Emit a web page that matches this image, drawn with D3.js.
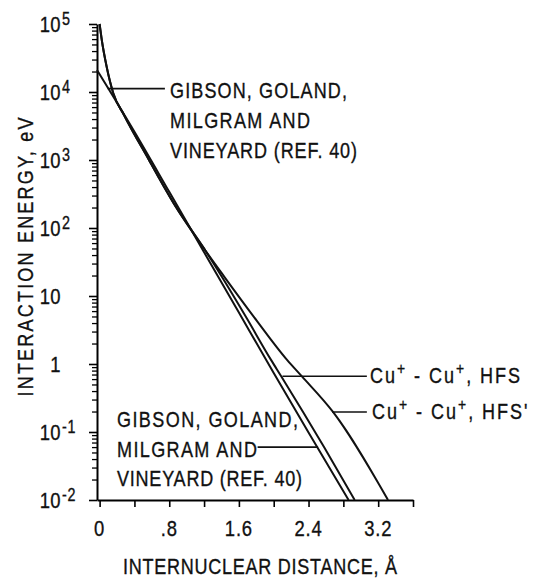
<!DOCTYPE html>
<html>
<head>
<meta charset="utf-8">
<script src="https://cdn.jsdelivr.net/npm/d3@7"></script>
<style>
  body { margin: 0; background: #fff; }
  text { font-family: 'Liberation Sans', Arial, sans-serif; fill: #111; stroke: #111; stroke-width: 0.35px; }
</style>
</head>
<body>
<div id="chart"></div>
<script>
// distance (Angstrom) and energy (eV)
const gibsonR = [-0.03, 0.4, 0.8, 1.2, 1.6, 2.0, 2.4, 2.86];
const gibsonE = [21000, 2600, 340, 44, 5.7, 0.74, 0.098, 0.01];

const hfsR = [0.0, 0.025, 0.081, 0.157, 0.28, 0.567, 0.866, 1.211, 1.406, 1.682, 1.969, 2.084, 2.578, 2.93];
const hfsE = [100000, 58200, 23500, 9570, 4600, 1000, 215, 47.5, 19, 4.9, 1.15, 0.667, 0.06, 0.01];

const hfsPrimeR = [0.0, 0.025, 0.081, 0.157, 0.28, 0.567, 0.866, 1.211, 1.435, 1.774, 2.153, 2.319, 2.681, 3.313];
const hfsPrimeE = [100000, 58200, 23500, 9570, 4600, 1000, 215, 47.5, 19, 4.9, 1.15, 0.667, 0.197, 0.01];

const xTicks = [0, 0.4, 0.8, 1.2, 1.6, 2.0, 2.4, 2.8, 3.2, 3.6];
const xTickLabels = ["0", "", ".8", "", "1.6", "", "2.4", "", "3.2", ""];
const yDecades = [0.01, 0.1, 1, 10, 100, 1000, 10000, 100000];
const yTickBase = ["10", "10", "1", "10", "10", "10", "10", "10"];
const yTickExp = ["-2", "-1", "", "", "2", "3", "4", "5"];

const gibsonLines = ["GIBSON, GOLAND,", "MILGRAM AND", "VINEYARD (REF. 40)"];

const NARROW = 0.82;

const svg = d3.select("#chart")
  .append("svg")
  .attr("width", 533)
  .attr("height", 579);

const x = d3.scaleLinear().domain([-0.03, 3.6]).range([97, 413]);
const y = d3.scaleLog().domain([0.01, 100000]).range([500, 24]);

// condensed text: glyphs squeezed horizontally like the original typeface
function narrowText(x0, y0, str, size, opts = {}) {
  const g = svg.append("g")
    .attr("transform", `translate(${x0},${y0})${opts.rotate ? "rotate(-90)" : ""}scale(${NARROW},1)`);
  const t = g.append("text")
    .attr("text-anchor", opts.anchor || "start")
    .style("font-size", size + "px")
    .style("letter-spacing", (opts.spacing || 0) + "px")
    .text(str);
  if (opts.width) t.attr("textLength", opts.width / NARROW).attr("lengthAdjust", "spacing");
  return t;
}

// minor log ticks
const minor = y.ticks().filter(d => !yDecades.some(v => Math.abs(v - d) / v < 1e-6));
svg.append("g")
  .attr("transform", "translate(97,0)")
  .call(d3.axisLeft(y).tickValues(minor).tickSize(5).tickSizeOuter(0).tickFormat(""))
  .call(g => g.select(".domain").remove())
  .selectAll("line").attr("stroke-width", 1.3);

svg.append("g")
  .attr("transform", "translate(97,0)")
  .call(d3.axisLeft(y).tickValues(yDecades).tickSize(8).tickSizeOuter(0).tickFormat(""))
  .call(g => g.select(".domain").attr("stroke-width", 2))
  .selectAll("line").attr("stroke-width", 1.6);

svg.append("g")
  .attr("transform", "translate(0,500)")
  .call(d3.axisBottom(x).tickValues(xTicks).tickSize(7).tickSizeOuter(0).tickFormat(""))
  .call(g => g.select(".domain").attr("stroke-width", 2))
  .selectAll("line").attr("stroke-width", 1.6);

// y tick labels
yDecades.forEach((d, i) => {
  narrowText(61, y(d) + 8, yTickBase[i], 22.5, { anchor: "end", spacing: 0.5 });
  if (yTickExp[i]) narrowText(62, y(d) + 1, yTickExp[i], 17.5, { spacing: 1 });
});

// x tick labels
xTicks.forEach((d, i) => {
  if (xTickLabels[i]) narrowText(x(d), 536, xTickLabels[i], 22.5, { anchor: "middle", spacing: 1 });
});

// axis titles
narrowText(123, 574, "INTERNUCLEAR DISTANCE, Å", 22, { width: 274 });
narrowText(33, 257, "INTERACTION ENERGY, eV", 22, { anchor: "middle", rotate: true, width: 279 });

// curves
const line = d3.line()
  .x(d => x(d[0]))
  .y(d => y(d[1]))
  .curve(d3.curveMonotoneX);

[[gibsonR, gibsonE], [hfsR, hfsE], [hfsPrimeR, hfsPrimeE]].forEach(([rs, es]) => {
  svg.append("path")
    .datum(rs.map((r, i) => [r, es[i]]))
    .attr("fill", "none")
    .attr("stroke", "#111")
    .attr("stroke-width", 2)
    .attr("d", line);
});

// leader lines [r0, r1, E]
const leaders = [[0.093, 0.75, 11200], [1.815, 2.51, 0.06], [2.1, 3.07, 0.66], [2.67, 3.07, 0.197]];
leaders.forEach(l => {
  svg.append("line")
    .attr("x1", x(l[0])).attr("x2", x(l[1]))
    .attr("y1", y(l[2])).attr("y2", y(l[2]))
    .attr("stroke", "#111")
    .attr("stroke-width", 1.6);
});

// Gibson et al. labels
const upperWidths = [177, 140, 187];
const lowerWidths = [181, 140, 185];
gibsonLines.forEach((t, i) => {
  narrowText(170, 98 + i * 30, t, 22, { width: upperWidths[i] });
  narrowText(117, 427 + i * 29.5, t, 22, { width: lowerWidths[i] });
});

function cuLabel(x0, y0, suffix) {
  const t = narrowText(x0, y0, "", 22, { spacing: 2.4 });
  t.append("tspan").text("Cu");
  t.append("tspan").attr("dy", -9).style("font-size", "17px").text("+");
  t.append("tspan").attr("dy", 9).text(" - Cu");
  t.append("tspan").attr("dy", -9).style("font-size", "17px").text("+");
  t.append("tspan").attr("dy", 9).text(",  " + suffix);
}
cuLabel(370, 383, "HFS");
cuLabel(372, 419, "HFS'");
</script>
</body>
</html>
